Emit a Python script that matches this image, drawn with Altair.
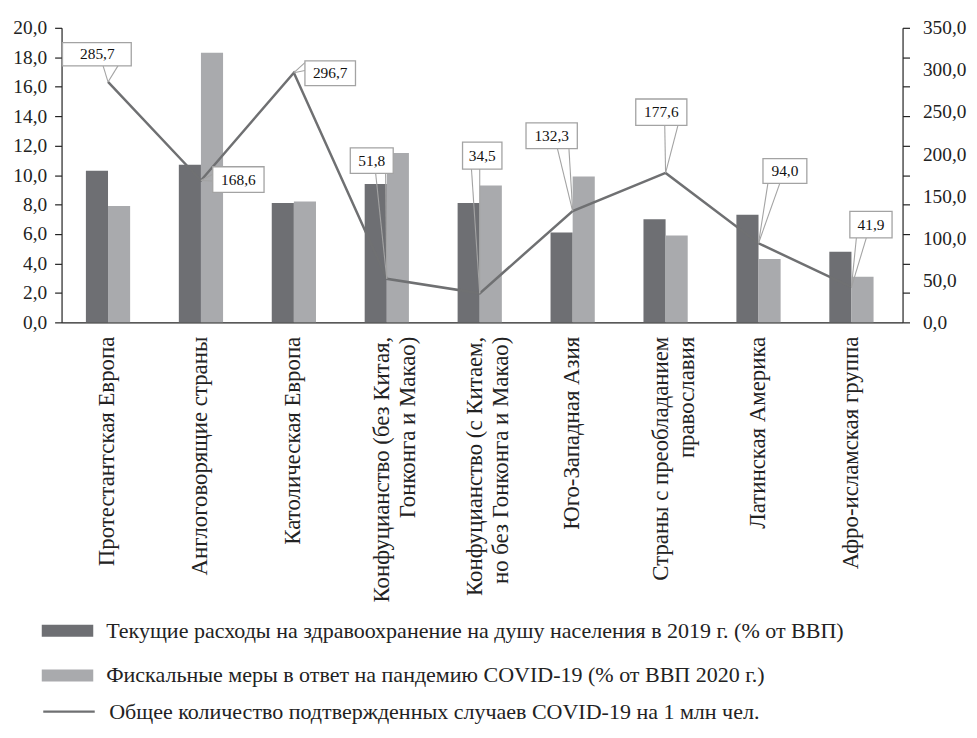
import json
import altair as alt
import pandas as pd

# ---------------- data ----------------
categories = [
    ["Протестантская Европа"],
    ["Англоговорящие страны"],
    ["Католическая Европа"],
    ["Конфуцианство (без Китая,", "Гонконга и Макао)"],
    ["Конфуцианство (с Китаем,", "но без Гонконга и Макао)"],
    ["Юго-Западная Азия"],
    ["Страны с преобладанием", "православия"],
    ["Латинская Америка"],
    ["Афро-исламская группа"],
]
health = [10.3, 10.7, 8.1, 9.4, 8.1, 6.1, 7.0, 7.3, 4.8]
fiscal = [7.9, 18.3, 8.2, 11.5, 9.3, 9.9, 5.9, 4.3, 3.1]
cases = [285.7, 168.6, 296.7, 51.8, 34.5, 132.3, 177.6, 94.0, 41.9]
series_names = [
    "Текущие расходы на здравоохранение на душу населения в 2019 г. (% от ВВП)",
    "Фискальные меры в ответ на пандемию COVID-19 (% от ВВП 2020 г.)",
    "Общее количество подтвержденных случаев COVID-19 на 1 млн чел.",
]
left_ticks = [0, 2, 4, 6, 8, 10, 12, 14, 16, 18, 20]
right_ticks = [0, 35, 70, 105, 140, 175, 210, 245, 280, 315, 350]
right_labels = [0, 50, 100, 150, 200, 250, 300, 350]

# callout annotation layout (data units: x = category index, y = right-axis units)
callout_box = [
    (-0.49, 0.25, 332.3, 304.8),
    (1.127, 1.679, 184.9, 154.5),
    (2.119, 2.663, 310.7, 281.2),
    (2.607, 3.069, 207.3, 177.0),
    (3.815, 4.239, 214.3, 182.1),
    (4.498, 5.050, 237.1, 206.4),
    (5.679, 6.229, 265.4, 234.0),
    (7.048, 7.520, 194.6, 165.2),
    (7.983, 8.437, 131.8, 100.3),
]
callout_text = [
    (-0.115, 318.5), (1.403, 169.7), (2.391, 296.0), (2.838, 192.1),
    (4.027, 198.2), (4.774, 221.8), (5.954, 249.7), (7.284, 179.9), (8.21, 116.0),
]
callout_base = [
    ((-0.053, 304.8), (0.107, 304.8)),
    ((1.127, 176.0), (1.127, 168.0)),
    ((2.119, 308.7), (2.119, 299.3)),
    ((2.880, 177.0), (2.987, 177.0)),
    ((3.911, 182.1), (4.000, 182.1)),
    ((4.836, 206.4), (4.960, 206.4)),
    ((5.991, 234.0), (6.133, 234.0)),
    ((7.101, 165.2), (7.229, 165.2)),
    ((8.053, 100.3), (8.160, 100.3)),
]

# ---------------- styling ----------------
FONT = "Liberation Serif"
TXT = "#222222"
DARK = "#6e6f73"
LIGHT = "#a9aaad"
LINEC = "#6f7072"
BOXC = "#a3a3a3"
BAR_W = 0.238

# ---------------- tables ----------------
bar_rows = []
for i in range(len(categories)):
    bar_rows.append({"series": series_names[0], "value": health[i], "base": 0, "x0": i - BAR_W, "x1": i})
    bar_rows.append({"series": series_names[1], "value": fiscal[i], "base": 0, "x0": i, "x1": i + BAR_W})
bars_df = pd.DataFrame(bar_rows)

line_df = pd.DataFrame({"idx": list(range(len(cases))), "cases": cases, "name": series_names[2]})

lead_rows = []
for i, (b1, b2) in enumerate(callout_base):
    for bx, by in (b1, b2):
        lead_rows.append({"px": i, "py": cases[i], "bx": bx, "by": by})
lead_df = pd.DataFrame(lead_rows)

box_df = pd.DataFrame(
    [{"l": l, "r": r, "t": t, "b": b} for (l, r, t, b) in callout_box]
)
text_df = pd.DataFrame(
    [{"tx": tx, "ty": ty, "label": f"{cases[i]:.1f}".replace(".", ",")}
     for i, (tx, ty) in enumerate(callout_text)]
)

# ---------------- scales / axes ----------------
xscale = alt.Scale(domain=[-0.5, 8.55], nice=False, zero=False)
lscale = alt.Scale(domain=[0, 20], nice=False)
rscale = alt.Scale(domain=[0, 350], nice=False)

multi_idx = [i for i, c in enumerate(categories) if len(c) > 1]
label_expr_x = json.dumps(categories, ensure_ascii=False) + "[datum.value]"
x_axis = alt.Axis(
    values=list(range(len(categories))), labelExpr=label_expr_x, orient="bottom",
    labelAngle=270, labelAlign="right", labelBaseline="middle", labelPadding=14,
    labelOffset={"condition": {"test": f"indexof({json.dumps(multi_idx)}, datum.value) >= 0",
                               "value": -5}, "value": -1},
    ticks=False, grid=False, title=None, domainColor=TXT, domainWidth=1.3,
    labelFont=FONT, labelFontSize=23, labelLineHeight=26, labelColor=TXT,
    labelOverlap=False, labelFlush=False, labelLimit=0,
)
left_axis = alt.Axis(
    values=left_ticks, orient="left",
    labelExpr="replace(format(datum.value, '.1f'), '.', ',')",
    tickSize=7, labelPadding=8, grid=False, title=None,
    domainColor=TXT, tickColor=TXT, domainWidth=1.2, tickWidth=1.2,
    labelFont=FONT, labelFontSize=19.5, labelColor=TXT,
    labelOverlap=False, labelFlush=False,
)
right_values = sorted(set(right_ticks) | set(right_labels))
right_axis = alt.Axis(
    values=right_values, orient="right",
    labelExpr="datum.value % 50 === 0 ? replace(format(datum.value, '.1f'), '.', ',') : ''",
    tickOpacity={"condition": {"test": "datum.value % 35 === 0", "value": 1}, "value": 0},
    tickSize=7, labelPadding=13, grid=False, title=None,
    domainColor=TXT, tickColor=TXT, domainWidth=1.2, tickWidth=1.2,
    labelFont=FONT, labelFontSize=19.5, labelColor=TXT,
    labelOverlap=False, labelFlush=False,
)

bar_sym = "M-1.18,-0.273L1.18,-0.273L1.18,0.273L-1.18,0.273Z"
line_sym = "M-1.18,0L1.18,0"

fill_legend = alt.Legend(
    title=None, orient="none", legendX=-16, legendY=586, direction="vertical",
    symbolType=bar_sym, symbolSize=1936, symbolStrokeWidth=0,
    labelFont=FONT, labelFontSize=22.2, labelColor=TXT, labelOffset=17,
    rowPadding=11, padding=0, labelLimit=0,
)
stroke_legend = alt.Legend(
    title=None, orient="none", legendX=-16, legendY=666, direction="vertical",
    symbolType=line_sym, symbolSize=1936, symbolStrokeWidth=2.5,
    labelFont=FONT, labelFontSize=22.2, labelColor=TXT, labelOffset=17,
    rowPadding=0, padding=0, labelLimit=0,
)

# ---------------- layers ----------------
bars = alt.Chart(bars_df).mark_bar().encode(
    x=alt.X("x0:Q", scale=xscale, axis=x_axis),
    x2="x1:Q",
    y=alt.Y("value:Q", scale=lscale, axis=left_axis),
    y2="base:Q",
    color=alt.Color("series:N", sort=series_names[:2],
                    scale=alt.Scale(domain=series_names[:2], range=[DARK, LIGHT]),
                    legend=fill_legend),
)

line = alt.Chart(line_df).mark_line(strokeWidth=2.5).encode(
    x=alt.X("idx:Q", scale=xscale, axis=x_axis),
    y=alt.Y("cases:Q", scale=rscale, axis=right_axis),
    stroke=alt.Stroke("name:N", scale=alt.Scale(domain=[series_names[2]], range=[LINEC]),
                      legend=stroke_legend),
)

leaders = alt.Chart(lead_df).mark_rule(stroke=BOXC, strokeWidth=1.1).encode(
    x=alt.X("px:Q", scale=xscale, axis=x_axis),
    y=alt.Y("py:Q", scale=rscale, axis=right_axis),
    x2="bx:Q",
    y2="by:Q",
)

boxes = alt.Chart(box_df).mark_rect(fill="white", stroke=BOXC, strokeWidth=1.3).encode(
    x=alt.X("l:Q", scale=xscale, axis=x_axis),
    x2="r:Q",
    y=alt.Y("t:Q", scale=rscale, axis=right_axis),
    y2="b:Q",
)

texts = alt.Chart(text_df).mark_text(font=FONT, fontSize=15.5, color="#111111").encode(
    x=alt.X("tx:Q", scale=xscale, axis=x_axis),
    y=alt.Y("ty:Q", scale=rscale, axis=right_axis),
    text="label:N",
)

right_layer = alt.layer(line, leaders, boxes, texts)

chart = alt.layer(bars, right_layer).resolve_scale(
    y="independent"
).properties(
    width=848, height=297,
    autosize=alt.AutoSizeParams(type="none"),
    padding={"left": 54, "top": 17, "right": 67, "bottom": 403},
    background="white",
).configure_view(stroke=None)

chart.save("out.html", embed_options={"renderer": "svg", "actions": False})
